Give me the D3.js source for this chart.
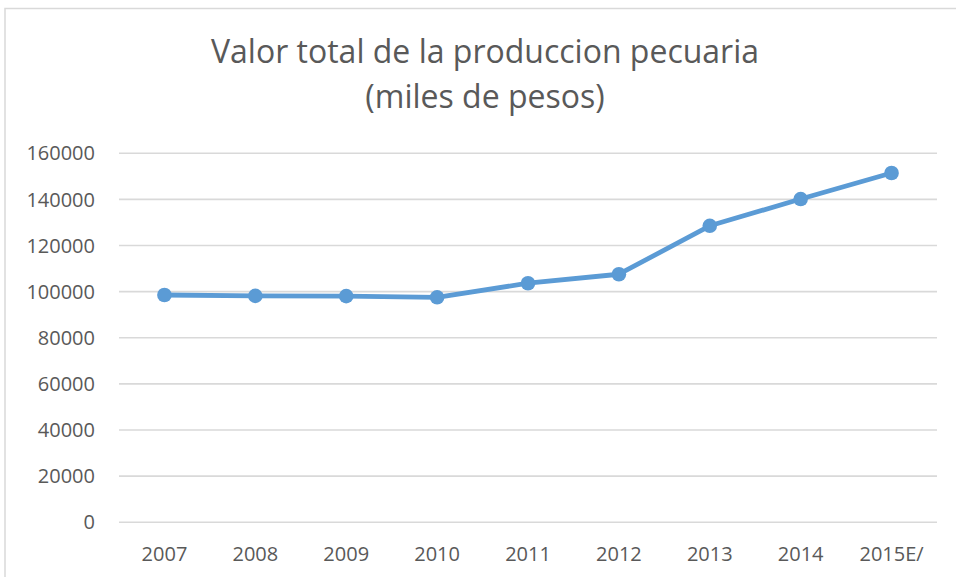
<!DOCTYPE html>
<html>
<head>
<meta charset="utf-8">
<script src="https://cdn.jsdelivr.net/npm/d3@7"></script>
<style>
  body { margin: 0; background: #fff; }
  svg text { font-family: "Open Sans", sans-serif; fill: #595959; }
</style>
</head>
<body>
<svg id="chart" width="956" height="577"></svg>
<script>
// data
const years  = ["2007", "2008", "2009", "2010", "2011", "2012", "2013", "2014", "2015E/"];
const values = [98300, 97900, 97800, 97300, 103400, 107300, 128300, 139900, 151200];
const yTicks = [0, 20000, 40000, 60000, 80000, 100000, 120000, 140000, 160000];
const titleLines = ["Valor total de la produccion pecuaria", "(miles de pesos)"];

const svg = d3.select("#chart");
const plot = { left: 119, right: 937, top: 152.7, bottom: 521.7 };

// outer chart frame (cut off at right / bottom like the reference)
svg.append("rect")
  .attr("x", 5).attr("y", 8.5)
  .attr("width", 1000).attr("height", 1000)
  .attr("fill", "none")
  .attr("stroke", "#d9d9d9")
  .attr("stroke-width", 1.5);

// title
svg.append("g").selectAll("text")
  .data(titleLines)
  .join("text")
  .attr("x", 485)
  .attr("y", (d, i) => 63 + i * 45)
  .attr("text-anchor", "middle")
  .style("font-size", "32px")
  .text(d => d);

const x = d3.scaleBand().domain(years).range([plot.left, plot.right]);
const y = d3.scaleLinear().domain([0, 160000]).range([plot.bottom, plot.top]);

// gridlines
svg.append("g")
  .attr("transform", `translate(${plot.left},0)`)
  .call(d3.axisLeft(y).tickValues(yTicks).tickSize(-(plot.right - plot.left)).tickFormat(""))
  .call(g => g.select(".domain").remove())
  .call(g => g.selectAll("line").attr("stroke", "#d9d9d9").attr("stroke-width", 1.6));

// y labels
svg.append("g")
  .attr("transform", "translate(95,0)")
  .call(d3.axisLeft(y).tickValues(yTicks).tickSize(0).tickPadding(0).tickFormat(d3.format("d")))
  .call(g => g.select(".domain").remove())
  .call(g => g.selectAll("text")
    .attr("fill", "#595959")
    .style("font-family", "'Open Sans', sans-serif")
    .style("font-size", "20px")
    .attr("dy", "0.36em"));

// x labels
svg.append("g")
  .attr("transform", `translate(0,${plot.bottom})`)
  .call(d3.axisBottom(x).tickSize(0).tickPadding(0))
  .call(g => g.select(".domain").remove())
  .call(g => g.selectAll("text")
    .attr("fill", "#595959")
    .style("font-family", "'Open Sans', sans-serif")
    .style("font-size", "20px")
    .attr("dy", null)
    .attr("y", 39));

// series
const pts = years.map((yr, i) => ({ yr, v: values[i] }));
const cx = d => x(d.yr) + x.bandwidth() / 2;

svg.append("path")
  .datum(pts)
  .attr("fill", "none")
  .attr("stroke", "#5b9bd5")
  .attr("stroke-width", 4.8)
  .attr("stroke-linejoin", "round")
  .attr("d", d3.line().x(cx).y(d => y(d.v)));

svg.append("g").selectAll("circle")
  .data(pts)
  .join("circle")
  .attr("cx", cx)
  .attr("cy", d => y(d.v))
  .attr("r", 7.3)
  .attr("fill", "#5b9bd5");
</script>
</body>
</html>
